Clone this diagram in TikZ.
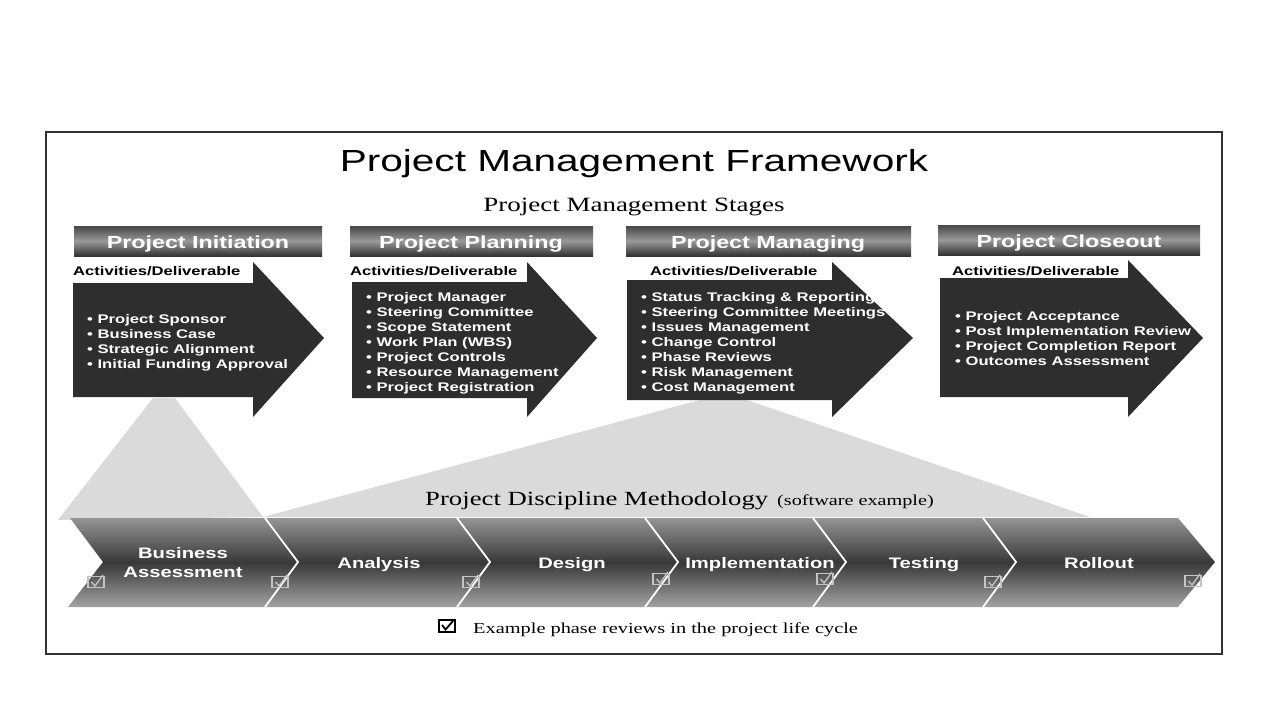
\documentclass[tikz,border=0pt]{standalone}
\usepackage{fontspec}
\setmainfont{Liberation Serif}[FakeStretch=1.33]
\newfontfamily\sansf{Liberation Sans}[FakeStretch=1.33]
\definecolor{arrowc}{HTML}{2E2E2E}
\definecolor{tric}{HTML}{DADADA}
\definecolor{framec}{HTML}{333333}
\definecolor{chkc}{HTML}{C4C4C4}
\tikzset{
  hdr/.style={font=\sansf\bfseries\fontsize{17.5}{20}\selectfont, text=white, inner sep=0, anchor=base},
  act/.style={font=\sansf\bfseries\fontsize{12.5}{15}\selectfont, text=black, inner sep=0, anchor=base west},
  bul/.style={font=\sansf\bfseries\fontsize{12.5}{15}\selectfont, text=white, inner sep=0, anchor=base west},
  phase/.style={font=\sansf\bfseries\fontsize{15.2}{19}\selectfont, text=white, inner sep=0, anchor=base},
  serifbig/.style={inner sep=0, text=black, anchor=base},
  darrow/.style={fill=arrowc, draw=none},
  hdrbar/.style={top color=black!72, bottom color=black!80, middle color=black!40},
  lchk/.pic={
    \draw[chkc, line width=1.3] (-8,-5.5) rectangle (8,5.5);
    \draw[chkc, line width=1.3] (-4.5,0) -- (-1,4) -- (7,-7);
  },
  dchk/.pic={
    \draw[black, line width=1.8] (-8,-6) rectangle (8,6);
    \draw[black, line width=1.8] (-5,-1) -- (-1.5,3.5) -- (6,-5);
  }
}
\begin{document}
\begin{tikzpicture}[x=1pt, y=-1pt]
\useasboundingbox (0,0) rectangle (1280,720);
\fill[white] (0,0) rectangle (1280,720);
% frame
\draw[framec, line width=2] (46,132) rectangle (1222,654);

% titles
\node[serifbig, font=\sansf\fontsize{30.5}{36}\selectfont] (title) at (634,171) {Project Management Framework};
\node[serifbig, font=\fontsize{20.3}{24}\selectfont] (stages) at (634,211) {Project Management Stages};

% light gray pyramids
\fill[tric] (58,520) -- (153,398) -- (175,398) -- (263,517) -- cycle;
\fill[tric] (263,517) -- (700,400) -- (747,400) -- (1090,517) -- cycle;

% header bars
\shade[hdrbar] (74,226) rectangle (322,256);
\shade[hdrbar] (350,226) rectangle (593,256);
\shade[hdrbar] (626,226) rectangle (911,256);
\shade[hdrbar] (938,225) rectangle (1200,255);
\node[hdr] (h1) at (198,248) {Project Initiation};
\node[hdr] (h2) at (471,248) {Project Planning};
\node[hdr] (h3) at (768,248) {Project Managing};
\node[hdr] (h4) at (1069,247) {Project Closeout};

% big arrows
\fill[darrow] (73,283) -- (253,283) -- (253,262) -- (324,338) -- (253,417) -- (253,397) -- (73,397) -- cycle;
\fill[darrow] (352,282) -- (527,282) -- (527,262) -- (597,338) -- (527,417) -- (527,398) -- (352,398) -- cycle;
\fill[darrow] (627,280) -- (832,280) -- (832,262) -- (913,338) -- (832,417) -- (832,400) -- (627,400) -- cycle;
\fill[darrow] (940,278) -- (1128,278) -- (1128,260) -- (1203,338) -- (1128,417) -- (1128,397) -- (940,397) -- cycle;

% Activities/Deliverable labels
\node[act] (a1) at (73,275) {Activities/Deliverable};
\node[act] (a2) at (350,275) {Activities/Deliverable};
\node[act] (a3) at (650,275) {Activities/Deliverable};
\node[act] (a4) at (952,275) {Activities/Deliverable};

% bullet lists
\foreach \t [count=\i] in {Project Sponsor, Business Case, Strategic Alignment, Initial Funding Approval}
  \node[bul] (ba\i) at (87,{319+15*(\i-1)+4.5}) {\textbullet\ \t};
\foreach \t [count=\i] in {Project Manager, Steering Committee, Scope Statement, Work Plan (WBS), Project Controls, Resource Management, Project Registration}
  \node[bul] (bb\i) at (366,{297+15*(\i-1)+4.5}) {\textbullet\ \t};
\foreach \t [count=\i] in {Status Tracking \& Reporting, Steering Committee Meetings, Issues Management, Change Control, Phase Reviews, Risk Management, Cost Management}
  \node[bul] (bc\i) at (641,{297+15*(\i-1)+4.5}) {\textbullet\ \t};
\foreach \t [count=\i] in {Project Acceptance, Post Implementation Review, Project Completion Report, Outcomes Assessment}
  \node[bul] (bd\i) at (955,{316+15*(\i-1)+4.5}) {\textbullet\ \t};

% methodology label
\node[inner sep=0, anchor=base west] (method) at (425,505) {{\fontsize{20.1}{24}\selectfont Project Discipline Methodology}\hspace{9pt}{\fontsize{15.2}{18}\selectfont (software example)}};

% chevron band
\shade[top color=black!42, bottom color=black!36, middle color=black!78]
  (70,518) -- (1178,518) -- (1215,562) -- (1178,607) -- (68,607) -- (103,562) -- cycle;
\foreach \x in {265,457,645,813,983}
  \draw[white, line width=1.8] (\x,518) -- (\x+33,562) -- (\x,607);

% phase labels
\node[phase] (p1a) at (183,558.5) {Business};
\node[phase] (p1b) at (183,577.5) {Assessment};
\node[phase] (p2) at (379,568.5) {Analysis};
\node[phase] (p3) at (572,568.5) {Design};
\node[phase] (p4) at (760,568.5) {Implementation};
\node[phase] (p5) at (924,568.5) {Testing};
\node[phase] (p6) at (1099,568.5) {Rollout};

% phase review checkboxes
\foreach \x/\y in {96/582, 280/582, 471/582, 661/579, 825/579, 993/582, 1193/581}
  \pic at (\x,\y) {lchk};

% legend
\pic at (447,626) {dchk};
\node[inner sep=0, anchor=base west, font=\fontsize{15.3}{18}\selectfont] (legend) at (473,633) {Example phase reviews in the project life cycle};
\end{tikzpicture}
\end{document}
